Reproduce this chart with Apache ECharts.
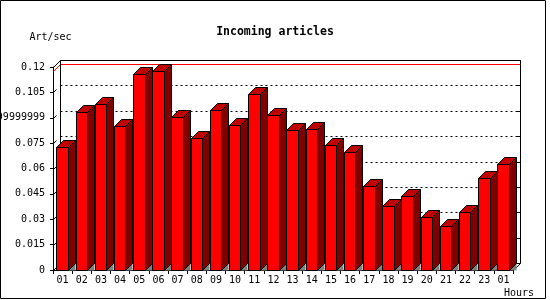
<!DOCTYPE html>
<html>
<head>
<meta charset="utf-8">
<script src="https://cdn.jsdelivr.net/npm/echarts@6/dist/echarts.min.js"></script>
<style>
html,body{margin:0;padding:0;background:#fff;}
#chart{width:550px;height:300px;}
</style>
</head>
<body>
<div id="chart"></div>
<script>
const hours = ['01','02','03','04','05','06','07','08','09','10','11','12','13','14','15','16','17','18','19','20','21','22','23','01'];
const articlesPerSec = [0.0725,0.0932,0.0979,0.0851,0.1157,0.1176,0.0904,0.0780,0.0944,0.0855,0.1038,0.0914,0.0826,0.0832,0.0739,0.0696,0.0494,0.0376,0.0435,0.0311,0.0258,0.0341,0.0542,0.0625];
const yTickValues = [0,0.015,0.03,0.045,0.06,0.075,0.09,0.105,0.12];
const yTickLabels = ['0','0.015','0.03','0.045','0.06','0.075','0.09999999','0.105','0.12'];

const DX = 7, DY = 7;
const FONT = 'DejaVu Sans Mono';
const px = v => Math.round(v) + 0.5;

const chart = echarts.init(document.getElementById('chart'), null, {renderer:'canvas'});

function renderWall(params, api) {
  const cs = params.coordSys;
  const xl = px(cs.x), xr = px(cs.x + cs.width);
  const yTop = px(cs.y), yBot = px(cs.y + cs.height);
  const children = [];
  yTickValues.forEach((t, k) => {
    const y = px(api.coord([0, t])[1]);
    if (k > 0 && k < yTickValues.length - 1) {
      children.push({type:'line', shape:{x1:xl+DX, y1:y-DY, x2:xr+DX, y2:y-DY},
        style:{stroke:'#000', lineWidth:1, lineDash:[2,3]}});
    }
    children.push({type:'line', shape:{x1:xr+DX-4, y1:y-DY, x2:xr+DX, y2:y-DY},
      style:{stroke:'#000', lineWidth:1}});
    children.push({type:'line', shape:{x1:xl, y1:y, x2:xl+3, y2:y-3},
      style:{stroke:'#000', lineWidth:1}});
  });
  const maxV = Math.max.apply(null, articlesPerSec);
  const ym = px(api.coord([0, maxV])[1]);
  children.push({type:'polyline', shape:{points:[[xl, ym],[xl+DX, ym-DY],[xr+DX, ym-DY]]},
    style:{stroke:'#ff0000', lineWidth:1, fill:null}});
  children.push({type:'polyline', shape:{points:[[xl, yTop],[xl+DX, yTop-DY],[xr+DX, yTop-DY],[xr+DX, yBot-DY],[xr, yBot]]},
    style:{stroke:'#000', lineWidth:1, fill:null}});
  children.push({type:'line', shape:{x1:xl+DX, y1:yTop-DY, x2:xl+DX, y2:yBot-DY},
    style:{stroke:'#000', lineWidth:1}});
  return {type:'group', children};
}

function renderBar(params, api) {
  const i = api.value(0), v = api.value(1);
  const top = api.coord([i, v]);
  const base = api.coord([i, 0]);
  const bw = api.size([1, 0])[0];
  const left = top[0] - bw / 2;
  const x0 = px(left + bw * 0.18);
  const x1 = px(left + bw * 0.18 + bw * 0.6);
  const yt = px(top[1]), yb = px(base[1]);
  const st = {stroke:'#000', lineWidth:1};
  return {type:'group', children:[
    {type:'polygon', shape:{points:[[x1,yb],[x1+DX,yb],[x1+DX,yb-DY]]}, style:{fill:'#808080', stroke:null}},
    {type:'polygon', shape:{points:[[x1,yt],[x1+DX,yt-DY],[x1+DX,yb-DY],[x1,yb]]}, style:Object.assign({fill:'#800000'}, st)},
    {type:'polygon', shape:{points:[[x0,yt],[x0+DX,yt-DY],[x1+DX,yt-DY],[x1,yt]]}, style:Object.assign({fill:'#c00000'}, st)},
    {type:'rect', shape:{x:x0, y:yt, width:x1-x0, height:yb-yt}, style:Object.assign({fill:'#ff0000'}, st)}
  ]};
}

const option = {
  animation: false,
  backgroundColor: '#fff',
  title: {
    text: 'Incoming articles', left: 'center', top: 21,
    textStyle: {fontFamily: FONT, fontSize: 11.5, fontWeight: 'bold', color: '#000'}
  },
  grid: {left: 53, right: 37, top: 67, bottom: 30, containLabel: false, outerBoundsMode: 'none'},
  xAxis: {
    type: 'category', data: hours, boundaryGap: true,
    name: 'Hours', nameLocation: 'end', nameGap: -9,
    nameTextStyle: {fontFamily: FONT, fontSize: 10, color: '#000', align: 'left', verticalAlign: 'top', padding: [18, 0, 0, 0]},
    axisLine: {show: true, lineStyle: {color: '#000', width: 1}},
    axisTick: {show: true, length: 4, alignWithLabel: false, lineStyle: {color: '#000'}},
    axisLabel: {fontFamily: FONT, fontSize: 10, color: '#000', margin: 5, interval: 0},
    splitLine: {show: false}
  },
  yAxis: {
    type: 'value', min: 0, max: 0.12, interval: 0.015,
    name: 'Art/sec', nameLocation: 'end', nameGap: 25,
    nameTextStyle: {fontFamily: FONT, fontSize: 10, color: '#000', align: 'center', padding: [0, 5, 0, 0]},
    axisLine: {show: true, onZero: false, lineStyle: {color: '#000', width: 1}},
    axisTick: {show: true, length: 3, lineStyle: {color: '#000'}},
    axisLabel: {
      fontFamily: FONT, fontSize: 10, color: '#000', margin: 8,
      formatter: function (val) {
        let best = 0;
        yTickValues.forEach((t, k) => { if (Math.abs(t - val) < Math.abs(yTickValues[best] - val)) best = k; });
        return yTickLabels[best];
      }
    },
    splitLine: {show: false}
  },
  graphic: [{
    type: 'rect', shape: {x: 0.5, y: 0.5, width: 545, height: 298},
    style: {stroke: '#000', fill: null, lineWidth: 1}, z: 100, silent: true
  }],
  series: [
    {type: 'custom', renderItem: renderWall, data: [[0, 0]], z: 1, silent: true, clip: false},
    {type: 'custom', renderItem: renderBar, data: articlesPerSec.map((v, i) => [i, v]), z: 2, silent: true, clip: false}
  ]
};
chart.setOption(option);
</script>
</body>
</html>
